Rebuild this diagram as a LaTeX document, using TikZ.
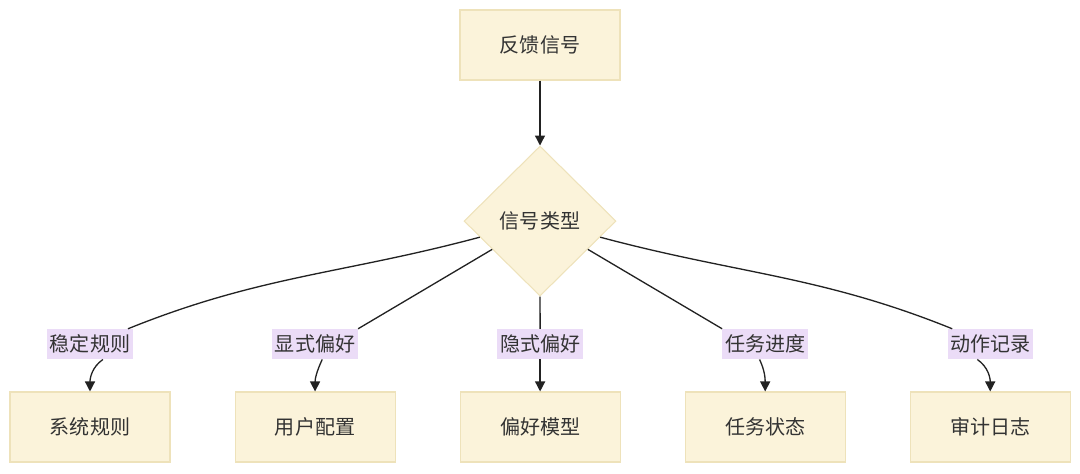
\documentclass[tikz,border=0pt]{standalone}
\usepackage{fontspec}
\setmainfont{Noto Sans CJK SC}
\usepackage{xcolor}
\usepackage{tikz}
\usetikzlibrary{shapes.geometric, arrows.meta, positioning}
\definecolor{ink}{HTML}{333333}
\definecolor{edge}{HTML}{222222}
\definecolor{sand}{HTML}{FBF3DA}
\definecolor{sandline}{HTML}{EEE2BA}
\definecolor{lilac}{HTML}{EBDCF7}
\tikzset{
  box/.style      = {draw=sandline, fill=sand, line width=0.6pt, rectangle,
                     minimum width=32mm, minimum height=14mm, text=ink,
                     font=\fontsize{11.4}{14}\selectfont},
  choice/.style   = {box, diamond, minimum width=30.4mm, minimum height=30mm, inner sep=0pt},
  tag/.style      = {fill=lilac, text=ink, inner xsep=1.5pt, inner ysep=0pt,
                     minimum height=6mm, font=\fontsize{11.4}{14}\selectfont},
  link/.style     = {draw=edge, line width=0.75pt},
  flow/.style     = {link, -{Triangle[length=2mm, width=2mm]}},
}
\begin{document}
\begin{tikzpicture}
  \useasboundingbox (0,0) rectangle (21.6,9.46);

  \node[box] (feedback) at (10.8,8.56) {反馈信号};
  \node[choice, below=13mm of feedback] (kind) {信号类型};

  \node[box] (rules) at (1.8,0.92) {系统规则};
  \node[box, right=12.8mm of rules] (config) {用户配置};
  \node[box, right=12.8mm of config] (model) {偏好模型};
  \node[box, right=12.8mm of model] (task) {任务状态};
  \node[box, right=12.8mm of task] (audit) {审计日志};

  \node[tag, above=6.4mm of rules] (tstable) {稳定规则};
  \node[tag, above=6.4mm of config] (texplicit) {显式偏好};
  \node[tag, above=6.4mm of model] (timplicit) {隐式偏好};
  \node[tag, above=6.4mm of task] (tprogress) {任务进度};
  \node[tag, above=6.4mm of audit] (taction) {动作记录};

  \draw[flow] (feedback) -- (kind);

  \draw[link] (kind) to[out=195, in=22] (tstable);
  \draw[link] (kind) -- (texplicit.north east);
  \draw[link] (kind) -- (timplicit);
  \draw[link] (kind) -- (tprogress.north west);
  \draw[link] (kind) to[out=345, in=158] (taction);

  \draw[flow] (tstable.-50) to[out=-145, in=90] (rules);
  \draw[flow] (texplicit.-65) to[out=-115, in=90] (config);
  \draw[flow] (timplicit) -- (model);
  \draw[flow] (tprogress.-110) to[out=-65, in=90] (task);
  \draw[flow] (taction.-130) to[out=-35, in=90] (audit);
\end{tikzpicture}
\end{document}
